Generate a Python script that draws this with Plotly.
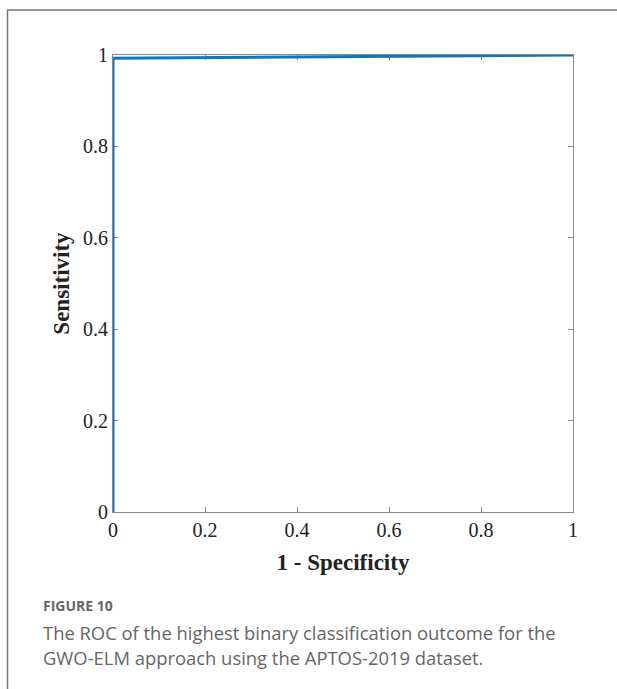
import plotly.graph_objects as go

# Data: ROC curve points
fpr = [0.0, 0.0, 1.0]
tpr = [0.0, 0.993, 1.0]
tick_vals = [0, 0.2, 0.4, 0.6, 0.8, 1]
tick_text = ["0", "0.2", "0.4", "0.6", "0.8", "1"]

W, H = 617, 689
L, R, T, B = 113, 573, 55, 512  # plot area in px

def px_x(px):
    return (px - L) / (R - L)

def px_y(py):
    return (B - py) / (B - T)

fig = go.Figure()
fig.add_trace(go.Scatter(x=fpr, y=tpr, mode="lines",
                         line=dict(color="#0B77C4", width=3),
                         showlegend=False, cliponaxis=False))

axis_common = dict(range=[0, 1], tickvals=tick_vals, ticktext=tick_text,
                   showgrid=False, zeroline=False, showline=True, linecolor="#8a8a8a",
                   linewidth=1.2, mirror="allticks", ticks="inside", ticklen=5,
                   tickcolor="#8a8a8a", tickwidth=1, layer="below traces",
                   tickfont=dict(family="Liberation Serif", size=20, color="#222"))

fig.update_layout(
    width=W, height=H,
    margin=dict(l=L, r=W - R, t=T, b=H - B),
    paper_bgcolor="white", plot_bgcolor="white",
    xaxis=dict(**axis_common,
               title=dict(text="<b>1 - Specificity</b>", standoff=13,
                          font=dict(family="Liberation Serif", size=23, color="#222"))),
    yaxis=dict(**axis_common,
               title=dict(text="<b>Sensitivity</b>", standoff=6,
                          font=dict(family="Liberation Serif", size=23, color="#222"))),
)

# Card border (left and top lines)
fig.add_shape(type="line", xref="paper", yref="paper",
              x0=px_x(7.5), x1=px_x(7.5), y0=px_y(700), y1=px_y(10),
              line=dict(color="#777", width=1.5))
fig.add_shape(type="line", xref="paper", yref="paper",
              x0=px_x(7), x1=px_x(640), y0=px_y(10), y1=px_y(10),
              line=dict(color="#777", width=1.5))

# Caption
fig.add_annotation(xref="paper", yref="paper", x=px_x(41), y=px_y(605),
                   xanchor="left", yanchor="middle", showarrow=False,
                   text="<b>FIGURE 10</b>",
                   font=dict(family="Open Sans", size=14, color="#666"))
fig.add_annotation(xref="paper", yref="paper", x=px_x(41), y=px_y(632),
                   xanchor="left", yanchor="middle", showarrow=False,
                   text="The ROC of the highest binary classification outcome for the",
                   font=dict(family="Open Sans", size=18.4, color="#666"))
fig.add_annotation(xref="paper", yref="paper", x=px_x(41), y=px_y(657),
                   xanchor="left", yanchor="middle", showarrow=False,
                   text="GWO-ELM approach using the APTOS-2019 dataset.",
                   font=dict(family="Open Sans", size=18.4, color="#666"))

fig.write_html("out.html", config={"displayModeBar": False},
               post_script="document.body.style.margin='0';")
